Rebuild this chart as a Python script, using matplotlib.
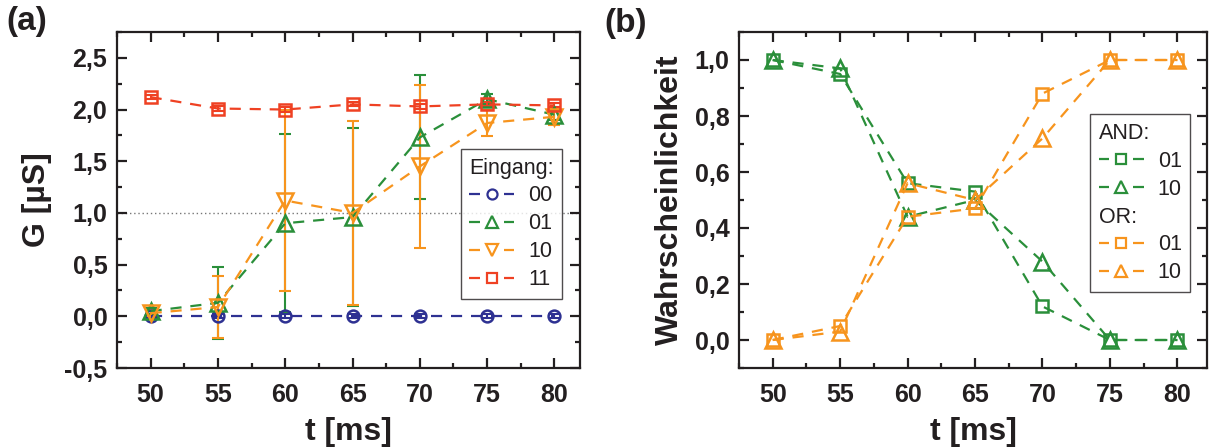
import matplotlib
matplotlib.use("Agg")
import matplotlib.pyplot as plt
from matplotlib.lines import Line2D
from matplotlib.legend_handler import HandlerBase
from matplotlib.ticker import MultipleLocator, FuncFormatter

plt.rcParams['font.family'] = ['Liberation Sans', 'DejaVu Sans']

# ---- data -------------------------------------------------------------
t_ms = [50, 55, 60, 65, 70, 75, 80]

# (a) conductance per input combination
g_00 = [0.0, 0.0, 0.0, 0.0, 0.0, 0.0, 0.0]
g_01 = [0.05, 0.13, 0.90, 0.96, 1.73, 2.10, 1.95]
g_10 = [0.03, 0.09, 1.12, 1.00, 1.45, 1.87, 1.93]
g_11 = [2.12, 2.01, 2.00, 2.05, 2.03, 2.05, 2.04]
err_00 = [0.02, 0.02, 0.02, 0.02, 0.02, 0.02, 0.02]
err_01 = [0.03, 0.35, 0.86, 0.86, 0.60, 0.05, 0.05]
err_10 = [0.03, 0.30, 0.88, 0.89, 0.79, 0.13, 0.08]
err_11 = [0.02, 0.02, 0.02, 0.02, 0.02, 0.02, 0.02]
inputs = ['00', '01', '10', '11']

# (b) probabilities for AND / OR operation
and_01 = [1.00, 0.95, 0.56, 0.53, 0.12, 0.00, 0.00]
and_10 = [1.00, 0.97, 0.44, 0.50, 0.28, 0.00, 0.00]
or_01 = [0.00, 0.05, 0.44, 0.47, 0.88, 1.00, 1.00]
or_10 = [0.00, 0.03, 0.56, 0.50, 0.72, 1.00, 1.00]

BLUE = '#2e3192'
GREEN = '#2a8f3a'
ORANGE = '#f7941d'
RED = '#ef4123'
INK = '#231f20'

LW = 1.6
DASH = (5, 4)

TICK_FS = 18
LABEL_FS = 23
LEG_FS = 15.5

fig = plt.figure(figsize=(12.10, 4.47), dpi=100)
ax1 = fig.add_axes([117 / 1210, 79 / 447, 463 / 1210, 336 / 447])
ax2 = fig.add_axes([739 / 1210, 79 / 447, 468 / 1210, 336 / 447])

comma = lambda fmt: FuncFormatter(lambda v, p: fmt.format(v).replace('.', ','))


class DashMarkerHandler(HandlerBase):
    """Legend key: short dash, marker, short dash."""

    def create_artists(self, legend, orig, xdescent, ydescent, width, height,
                       fontsize, trans):
        y = height / 2 - ydescent
        x0 = -xdescent
        seg = 0.23 * width
        col = orig.get_color()
        kw = dict(color=col, lw=LW, solid_capstyle='butt', transform=trans)
        left = Line2D([x0, x0 + seg], [y, y], **kw)
        right = Line2D([x0 + width - seg, x0 + width], [y, y], **kw)
        mark = Line2D([x0 + width / 2], [y], ls='none', marker=orig.get_marker(),
                      ms=orig.get_markersize() * 0.85, mfc='none', mec=col,
                      mew=1.6, transform=trans)
        return [left, right, mark]


def style_axes(ax):
    for s in ax.spines.values():
        s.set_linewidth(1.6)
        s.set_color(INK)
    ax.tick_params(which='both', direction='in', top=True, right=True,
                   width=1.6, color=INK)
    ax.tick_params(which='major', length=7.5, labelsize=TICK_FS, pad=7)
    ax.tick_params(axis='x', which='major', pad=11)
    ax.tick_params(which='minor', length=3.5)
    for lab in ax.get_xticklabels() + ax.get_yticklabels():
        lab.set_fontweight('bold')
        lab.set_color(INK)
    ax.xaxis.set_major_locator(MultipleLocator(5))
    ax.xaxis.set_minor_locator(MultipleLocator(2.5))
    ax.set_xlabel('t [ms]', fontsize=LABEL_FS, fontweight='bold', color=INK,
                  labelpad=7)


LEG_KW = dict(fontsize=LEG_FS, frameon=True, fancybox=False, edgecolor=INK,
              handlelength=2.1, handletextpad=0.65, labelspacing=0.32,
              borderpad=0.4, borderaxespad=0, loc='upper left')

# ---- panel (a) ----------------------------------------------------------
ax1.axhline(1.0, color='#777777', ls=(0, (1, 2)), lw=1.0, zorder=1)

series_a = [
    (g_00, err_00, BLUE, 'o', 8.5),
    (g_01, err_01, GREEN, '^', 11),
    (g_10, err_10, ORANGE, 'v', 11),
    (g_11, err_11, RED, 's', 8),
]
handles_a = []
for (vals, errs, col, mk, ms), lab in zip(series_a, inputs):
    ax1.errorbar(t_ms, vals, yerr=errs, color=col, ecolor=col, elinewidth=1.5,
                 capsize=4, capthick=1.5, ls='none', zorder=2)
    line, = ax1.plot(t_ms, vals, color=col, lw=LW, dashes=DASH, marker=mk,
                     ms=ms, mfc='none', mec=col, mew=1.8, label=lab, zorder=3)
    handles_a.append(line)

ax1.set_xlim(47.5, 81.9)
ax1.set_ylim(-0.5, 2.75)
ax1.yaxis.set_major_locator(MultipleLocator(0.5))
ax1.yaxis.set_minor_locator(MultipleLocator(0.25))
ax1.yaxis.set_major_formatter(comma('{:.1f}'))
style_axes(ax1)
ax1.set_ylabel('G [µS]', fontsize=LABEL_FS, fontweight='bold', color=INK,
               labelpad=9)

leg_a = ax1.legend(handles=handles_a, labels=inputs, title='Eingang:',
                   alignment='left', title_fontsize=LEG_FS,
                   bbox_to_anchor=(0.742, 0.652),
                   handler_map={h: DashMarkerHandler() for h in handles_a},
                   **LEG_KW)
leg_a.get_frame().set_linewidth(1.0)
for txt in leg_a.get_texts() + [leg_a.get_title()]:
    txt.set_color(INK)

# ---- panel (b) ----------------------------------------------------------
series_b = [
    (and_01, GREEN, 's', 8.5),
    (and_10, GREEN, '^', 11),
    (or_01, ORANGE, 's', 8.5),
    (or_10, ORANGE, '^', 11),
]
lines_b = []
for vals, col, mk, ms in series_b:
    line, = ax2.plot(t_ms, vals, color=col, lw=LW, dashes=DASH, marker=mk,
                     ms=ms, mfc='none', mec=col, mew=1.8)
    lines_b.append(line)

ax2.set_xlim(47.5, 82.2)
ax2.set_ylim(-0.1, 1.1)
ax2.yaxis.set_major_locator(MultipleLocator(0.2))
ax2.yaxis.set_minor_locator(MultipleLocator(0.1))
ax2.yaxis.set_major_formatter(comma('{:.1f}'))
style_axes(ax2)
ax2.set_ylabel('Wahrscheinlichkeit', fontsize=LABEL_FS, fontweight='bold',
               color=INK, labelpad=7)

blank = Line2D([], [], ls='none', marker='none')
handles_b = [blank, lines_b[0], lines_b[1], blank, lines_b[2], lines_b[3]]
labels_b = ['AND:', '01', '10', 'OR:', '01', '10']
leg_b = ax2.legend(handles=handles_b, labels=labels_b,
                   bbox_to_anchor=(0.75, 0.755),
                   handler_map={h: DashMarkerHandler() for h in lines_b},
                   **LEG_KW)
leg_b.get_frame().set_linewidth(1.0)
for txt in leg_b.get_texts():
    txt.set_color(INK)
# headers sit flush left, without a handle slot
try:
    for col in leg_b._legend_handle_box.get_children():
        for row in col.get_children():
            kids = row.get_children()
            if len(kids) == 2 and kids[1].get_children()[0].get_text().endswith(':'):
                row._children = [kids[1]]
except Exception:
    pass

fig.text(6 / 1210, 1 - 6 / 447, '(a)', fontsize=24, fontweight='bold',
         va='top', ha='left', color=INK)
fig.text(604 / 1210, 1 - 8 / 447, '(b)', fontsize=24, fontweight='bold',
         va='top', ha='left', color=INK)

fig.savefig('out.png', dpi=100)
